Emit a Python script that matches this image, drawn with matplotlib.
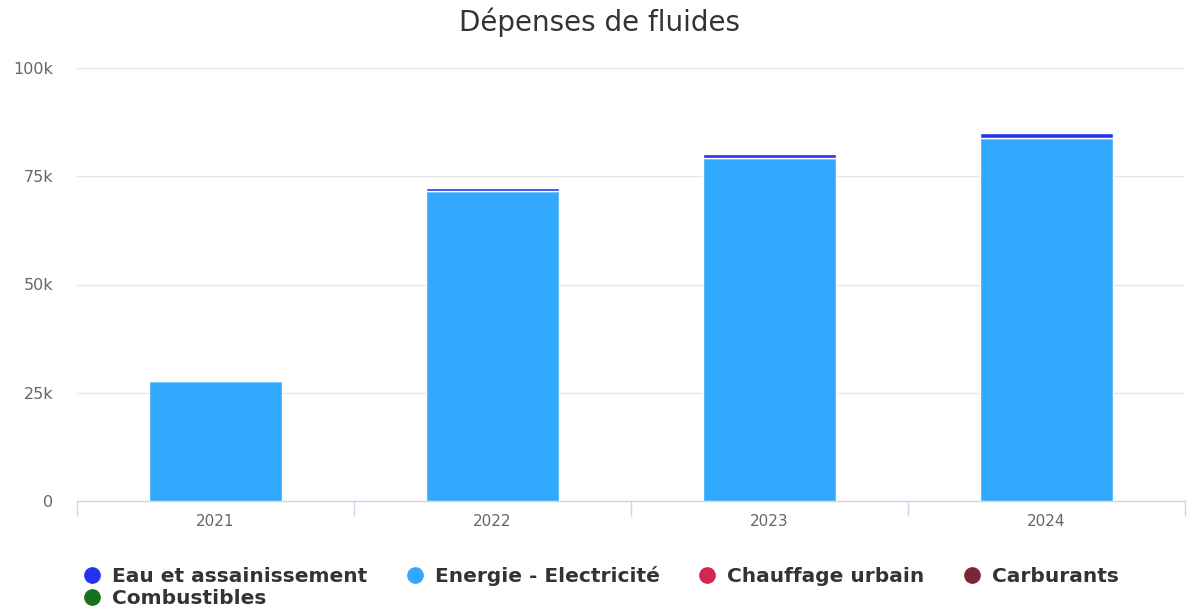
import numpy as np
import matplotlib
matplotlib.use('Agg')
import matplotlib.pyplot as plt
from matplotlib.lines import Line2D
from matplotlib.ticker import FixedLocator, FuncFormatter

plt.rcParams['font.family'] = ['DejaVu Sans']

years = ['2021', '2022', '2023', '2024']
series = ['Eau et assainissement', 'Energie - Electricité', 'Chauffage urbain',
          'Carburants', 'Combustibles']
colors = ['#2234ee', '#33a8ff', '#d4264d', '#7b2536', '#17701a']

eau = [0, 650, 850, 1100]
electricite = [27800, 71700, 79200, 83900]
chauffage = [0, 0, 0, 0]
carburants = [0, 0, 0, 0]
combustibles = [0, 0, 0, 0]

# highcharts stacks the first series on top, so draw in reverse
stack = [eau, electricite, chauffage, carburants, combustibles]

fig = plt.figure(figsize=(11.87, 6.10), dpi=100)
ax = fig.add_axes([77 / 1187, 109 / 610, 1108 / 1187, 433 / 610])

x = np.arange(len(years))
bottom = np.zeros(len(years))
for vals, col in zip(stack[::-1], colors[::-1]):
    vals = np.array(vals, dtype=float)
    ax.bar(x, vals, bottom=bottom, width=0.48, color=col,
           edgecolor='white', linewidth=1, zorder=3)
    bottom += vals

ax.set_xlim(-0.5, len(years) - 0.5)
ax.set_ylim(0, 100000)
ax.set_yticks([0, 25000, 50000, 75000, 100000])
ax.yaxis.set_major_formatter(FuncFormatter(lambda v, p: '0' if v == 0 else f'{int(v / 1000)}k'))
ax.grid(axis='y', color='#e6e6e6', linewidth=1, zorder=0)
ax.tick_params(axis='y', length=0, pad=17, labelsize=11.5, labelcolor='#666666')

ax.set_xticks(x)
ax.set_xticklabels(years)
ax.xaxis.set_minor_locator(FixedLocator(np.arange(-0.5, len(years), 1.0)))
ax.tick_params(axis='x', which='major', length=0, pad=9, labelsize=11, labelcolor='#666666')
ax.tick_params(axis='x', which='minor', length=11, width=1, color='#ccd6eb')

for s in ['top', 'right', 'left']:
    ax.spines[s].set_visible(False)
ax.spines['bottom'].set_color('#ccd6eb')
ax.spines['bottom'].set_linewidth(1)

fig.text(600 / 1187, 1 - 22 / 610, 'Dépenses de fluides', ha='center', va='center',
         fontsize=20, color='#333333')

handles = [Line2D([], [], marker='o', ls='', markersize=11, color=c) for c in colors]
order = [0, 4, 1, 2, 3]
fig.legend([handles[i] for i in order], [series[i] for i in order],
           loc='upper left', bbox_to_anchor=(83 / 1187, 1 - 566 / 610), ncol=4,
           frameon=False, handlelength=0.9, handletextpad=0.55, columnspacing=1.9,
           labelspacing=0.15, borderaxespad=0, borderpad=0,
           prop={'weight': 'bold', 'size': 14.5}, labelcolor='#333333')

fig.savefig('out.png', dpi=100)
